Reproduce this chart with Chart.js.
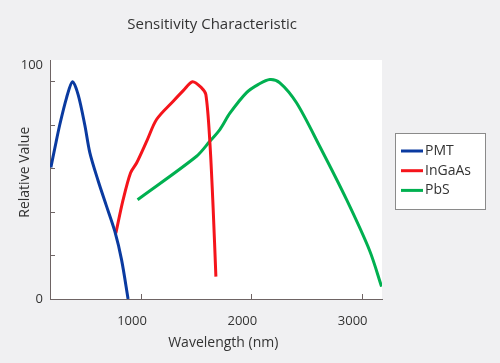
<!doctype html>
<html lang="en">
<head>
  <meta charset="utf-8">
  <title>Sensitivity Characteristic</title>
  <script src="https://cdn.jsdelivr.net/npm/chart.js@4.4.1/dist/chart.umd.min.js"></script>
  <style>
    html, body { margin: 0; padding: 0; background: #f0f0f2; }
    #wrap { width: 500px; height: 363px; }
  </style>
</head>
<body>
  <div id="wrap"><canvas id="sensChart"></canvas></div>
  <script>
    // values (wavelength in nm, relative value)
    const pmtWavelength = [178, 214, 259, 320, 374, 425, 486, 531, 607, 680, 758, 819, 878];
    const pmtValue      = [60.6, 69.5, 80.3, 92.6, 100, 94.1, 80, 67.4, 54.3, 43.1, 31.1, 18, 0];

    const ingaasWavelength = [767, 833, 900, 955, 1050, 1136, 1287, 1380, 1462, 1544, 1583, 1619, 1649, 1674];
    const ingaasValue      = [30.3, 45.7, 58, 62.6, 73, 82.6, 91, 96, 100, 97.2, 94.1, 72.6, 41.9, 10.3];

    const pbsWavelength = [964, 1499, 1619, 1710, 1801, 1952, 2060, 2163, 2254, 2405, 2615, 2859, 3070, 3176];
    const pbsValue      = [45.7, 65.7, 72.6, 78, 85.5, 95, 98.8, 101, 99.5, 90.3, 70.3, 45.7, 22, 5.7];

    const seriesNames = ['PMT', 'InGaAs', 'PbS'];
    const seriesColors = ['#0a3aa0', '#f5141b', '#00b050'];

    const xTicks = [1000, 2000, 3000];
    const yTicks = [0, 20, 40, 60, 80, 100];
    const yTopLabel = 107.5;   // the "100" label sits a bit above its tick

    const axisColor = '#6e6464';
    const textColor = '#333333';
    const fontFamily = '"Open Sans", "Noto Sans", sans-serif';

    function pts(xs, ys) {
      return xs.map((x, i) => ({ x: x, y: ys[i] }));
    }

    const plotBackground = {
      id: 'plotBackground',
      beforeDraw(chart) {
        const a = chart.chartArea, ctx = chart.ctx;
        ctx.save();
        ctx.fillStyle = '#ffffff';
        ctx.fillRect(a.left, a.top, a.right - a.left, a.bottom - a.top);
        ctx.restore();
      }
    };

    // boxed legend to the right of the plot
    const boxLegend = {
      id: 'boxLegend',
      afterDraw(chart) {
        const ctx = chart.ctx;
        const left = 395.5, top = 133.5, w = 90, h = 76;
        ctx.save();
        ctx.fillStyle = '#ffffff';
        ctx.fillRect(left, top, w, h);
        ctx.strokeStyle = '#8a8a8a';
        ctx.lineWidth = 1;
        ctx.strokeRect(left, top, w, h);
        ctx.font = '14px ' + fontFamily;
        ctx.textBaseline = 'middle';
        ctx.textAlign = 'left';
        chart.data.datasets.forEach((ds, i) => {
          const y = 151 + i * 19.7;
          ctx.strokeStyle = ds.borderColor;
          ctx.lineWidth = 3;
          ctx.beginPath();
          ctx.moveTo(401, y);
          ctx.lineTo(423, y);
          ctx.stroke();
          ctx.fillStyle = textColor;
          ctx.fillText(ds.label, 425, y);
        });
        ctx.restore();
      }
    };

    new Chart(document.getElementById('sensChart'), {
      type: 'line',
      data: {
        datasets: [
          { label: seriesNames[0], data: pts(pmtWavelength, pmtValue), borderColor: seriesColors[0] },
          { label: seriesNames[1], data: pts(ingaasWavelength, ingaasValue), borderColor: seriesColors[1] },
          { label: seriesNames[2], data: pts(pbsWavelength, pbsValue), borderColor: seriesColors[2] }
        ]
      },
      options: {
        responsive: true,
        maintainAspectRatio: false,
        animation: false,
        layout: { padding: { left: 0, right: 118, top: 0, bottom: 0 } },
        elements: {
          line: { borderWidth: 3, tension: 0.3, fill: false },
          point: { radius: 0, hoverRadius: 0 }
        },
        plugins: {
          legend: { display: false },
          tooltip: { enabled: false },
          title: {
            display: true,
            text: 'Sensitivity Characteristic  ',
            fullSize: false,
            color: textColor,
            font: { family: fontFamily, size: 15, weight: 'normal' },
            padding: { top: 16, bottom: 26 }
          }
        },
        scales: {
          x: {
            type: 'linear',
            min: 170,
            max: 3180,
            afterBuildTicks: s => { s.ticks = xTicks.map(v => ({ value: v })); },
            afterFit: s => { s.height = 64; },
            border: { display: true, color: axisColor, width: 1 },
            grid: { drawOnChartArea: false, tickLength: -5, tickColor: axisColor, tickWidth: 1 },
            ticks: {
              autoSkip: false,
              maxRotation: 0,
              labelOffset: -9.5,
              padding: 19,
              color: textColor,
              font: { family: fontFamily, size: 13 },
              callback: v => String(v)
            },
            title: {
              display: true,
              text: '    Wavelength (nm)',
              color: textColor,
              font: { family: fontFamily, size: 14 },
              padding: { top: 0, bottom: 11.6 }
            }
          },
          y: {
            min: 0,
            max: 110,
            afterBuildTicks: s => { s.ticks = yTicks.concat([yTopLabel]).map(v => ({ value: v })); },
            afterFit: s => { s.width = 50; },
            border: { display: true, color: axisColor, width: 1 },
            grid: {
              drawOnChartArea: false,
              tickLength: -5,
              tickWidth: 1,
              tickColor: c => (c.tick && c.tick.value === yTopLabel) ? 'rgba(0,0,0,0)' : axisColor
            },
            ticks: {
              autoSkip: false,
              padding: 12,
              color: textColor,
              font: { family: fontFamily, size: 13 },
              callback: v => v === 0 ? '0' : (v === yTopLabel ? '100' : '')
            },
            title: {
              display: true,
              text: '    Relative Value',
              color: textColor,
              font: { family: fontFamily, size: 14 },
              padding: { top: 16.6, bottom: 0 }
            }
          }
        }
      },
      plugins: [plotBackground, boxLegend]
    });
  </script>
</body>
</html>
